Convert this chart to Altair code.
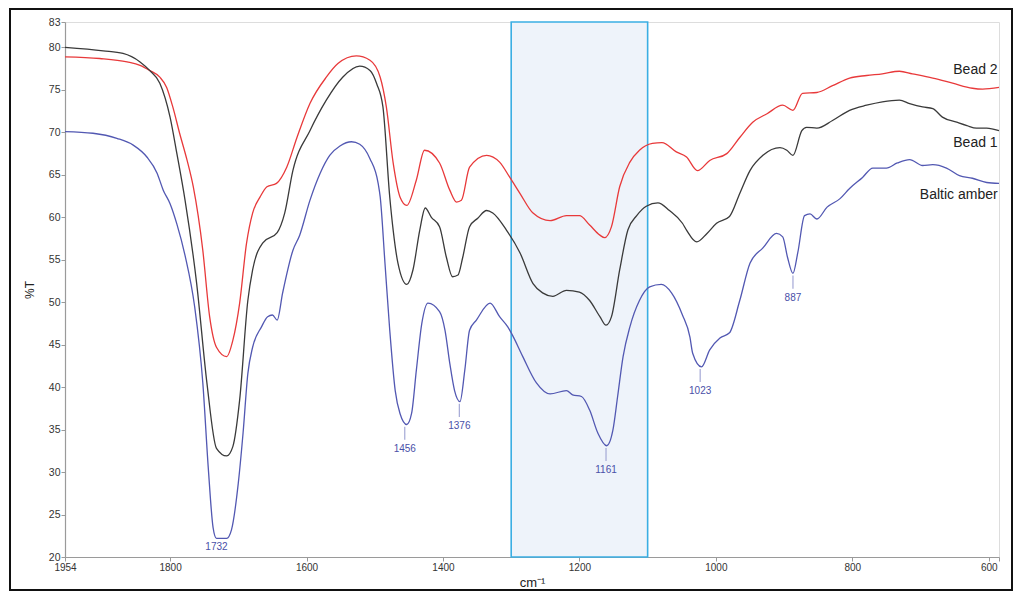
import altair as alt
import pandas as pd

# ---- data ----
bead1_wn = [1954, 1898, 1869, 1844, 1830, 1815, 1800, 1790, 1778, 1761, 1746, 1732, 1717, 1708, 1698,
            1686, 1679, 1664, 1643, 1632, 1620, 1595, 1571, 1547, 1522, 1507, 1497, 1488, 1478, 1473,
            1466, 1453, 1444, 1434, 1426, 1417, 1405, 1395, 1386, 1378, 1371, 1361, 1349, 1336, 1327,
            1307, 1287, 1268, 1254, 1239, 1219, 1200, 1185, 1170, 1161, 1153, 1141, 1129, 1116, 1102,
            1085, 1068, 1049, 1043, 1028, 1013, 999, 980, 965, 950, 931, 906, 896, 887, 874, 867, 852,
            829, 804, 779, 756, 731, 716, 697, 682, 668, 647, 632, 618, 603, 585]
bead1_t = [80.0, 79.6, 79.3, 78.3, 77.3, 75.8, 71.8, 67.5, 62.0, 52.2, 40.5, 32.8, 31.9, 33.0, 38.5,
           50.2, 53.8, 57.0, 58.2, 60.5, 65.5, 70.2, 73.8, 76.5, 77.8, 77.3, 75.7, 73.0, 62.4, 58.5,
           54.6, 52.1, 53.8, 58.5, 61.1, 60.0, 58.9, 55.3, 53.0, 53.2, 55.3, 58.9, 59.9, 60.8, 60.5,
           58.5, 55.8, 52.2, 51.1, 50.7, 51.4, 51.2, 50.2, 48.3, 47.3, 48.3, 53.8, 58.5, 60.2, 61.3,
           61.7, 60.8, 59.3, 58.5, 57.1, 58.1, 59.3, 60.1, 62.8, 65.5, 67.3, 68.2, 67.9, 67.3, 70.2, 70.6, 70.5,
           71.4, 72.6, 73.2, 73.6, 73.8, 73.4, 73.0, 72.8, 71.8, 71.2, 70.8, 70.5, 70.5, 70.2]

bead2_wn = [1954, 1903, 1863, 1844, 1830, 1815, 1805, 1796, 1786, 1775, 1766, 1752, 1742, 1732, 1717,
            1708, 1698, 1688, 1679, 1668, 1658, 1644, 1629, 1614, 1595, 1571, 1554, 1527, 1507, 1492,
            1483, 1473, 1463, 1453, 1439, 1427, 1405, 1390, 1380, 1373, 1361, 1336, 1317, 1302, 1287,
            1268, 1243, 1219, 1200, 1185, 1170, 1163, 1153, 1141, 1126, 1112, 1093, 1079, 1058, 1043,
            1027, 1009, 984, 965, 946, 925, 902, 887, 873, 852, 829, 804, 779, 756, 731, 712, 682, 653,
            624, 609, 585]
bead2_t = [78.9, 78.7, 78.3, 77.9, 77.3, 76.5, 75.3, 73.0, 69.9, 66.7, 63.6, 56.1, 48.3, 44.7, 43.6,
           45.5, 49.9, 56.9, 60.5, 62.4, 63.6, 64.0, 65.9, 69.4, 73.4, 76.5, 78.1, 79.0, 78.5, 76.5,
           73.0, 66.4, 62.4, 61.4, 64.4, 67.9, 66.4, 63.2, 61.8, 62.0, 65.9, 67.3, 66.5, 64.7, 62.8,
           60.5, 59.6, 60.2, 60.2, 59.1, 57.9, 57.6, 58.9, 63.6, 66.5, 67.9, 68.7, 68.8, 67.7, 67.1,
           65.5, 66.7, 67.5, 69.4, 71.2, 72.2, 73.2, 72.6, 74.6, 74.7, 75.5, 76.4, 76.7, 76.9, 77.2, 76.9, 76.4, 75.8,
           75.2, 75.1, 75.3]

amber_wn = [1954, 1913, 1878, 1854, 1834, 1819, 1810, 1800, 1790, 1778, 1764, 1752, 1744, 1737, 1732,
            1717, 1710, 1700, 1693, 1686, 1679, 1666, 1657, 1650, 1643, 1635, 1620, 1610, 1595, 1580,
            1566, 1551, 1534, 1522, 1507, 1495, 1492, 1485, 1478, 1470, 1463, 1453, 1446, 1439, 1431,
            1422, 1405, 1397, 1390, 1383, 1375, 1368, 1361, 1351, 1331, 1317, 1305, 1298, 1283, 1263,
            1243, 1219, 1210, 1197, 1185, 1173, 1160, 1151, 1144, 1136, 1126, 1112, 1097, 1080, 1065,
            1049, 1038, 1034, 1021, 1009, 994, 980, 965, 950, 931, 911, 902, 895, 887, 880, 870, 862,
            852, 837, 818, 804, 785, 770, 750, 734, 716, 697, 682, 662, 643, 624, 603, 585]
amber_t = [70.1, 69.9, 69.3, 68.5, 67.1, 65.2, 63.2, 61.6, 59.2, 55.5, 49.5, 40.5, 30.5, 23.5, 22.2,
           22.2, 23.2, 28.7, 34.6, 41.6, 44.7, 47.1, 48.3, 48.5, 47.9, 51.1, 56.1, 57.9, 62.0, 65.2,
           67.3, 68.4, 68.9, 68.6, 66.9, 64.0, 62.4, 54.6, 46.7, 39.6, 36.9, 35.6, 36.9, 42.0, 47.5,
           49.9, 48.9, 46.7, 42.8, 39.6, 38.3, 42.0, 46.7, 47.9, 49.9, 48.3, 47.1, 46.1, 43.6, 40.5,
           39.2, 39.6, 39.1, 38.9, 37.3, 34.6, 33.1, 34.9, 38.9, 43.6, 47.1, 50.2, 51.8, 52.1, 51.1,
           48.5, 45.9, 44.0, 42.4, 44.4, 45.8, 46.4, 50.2, 54.6, 56.4, 58.1, 57.7, 55.3, 53.4, 55.8, 60.2, 60.4,
           59.8, 61.2, 62.2, 63.4, 64.7, 65.8, 65.8, 66.4, 66.8, 66.1, 66.2, 65.8, 64.9, 64.6, 64.1, 64.0]

series_names = ["Bead 2", "Bead 1", "Baltic amber"]
series_colors = ["#E8393A", "#3A3A3A", "#5258B2"]
series_label_t = [77.3, 68.8, 62.6]

peak_wn = [1732, 1456, 1376, 1161, 1023, 887]
peak_t = [22.2, 35.6, 38.3, 33.1, 42.4, 53.4]
peak_has_leader = [False, True, True, True, True, True]

band_from, band_to = 1300, 1100

x_ticks = [1954, 1800, 1600, 1400, 1200, 1000, 800, 600, 585]
y_ticks = [20, 25, 30, 35, 40, 45, 50, 55, 60, 65, 70, 75, 80, 83]

# ---- build tables ----
spec = pd.concat([
    pd.DataFrame({"wn": bead2_wn, "t": bead2_t, "s": "Bead 2", "o": range(len(bead2_wn))}),
    pd.DataFrame({"wn": bead1_wn, "t": bead1_t, "s": "Bead 1", "o": range(len(bead1_wn))}),
    pd.DataFrame({"wn": amber_wn, "t": amber_t, "s": "Baltic amber", "o": range(len(amber_wn))}),
])
labels = pd.DataFrame({"s": series_names, "t": series_label_t, "wn": [587] * 3})
peaks = pd.DataFrame({"wn": peak_wn, "t": peak_t, "lead": peak_has_leader})
peaks["t_top"] = peaks["t"] - 0.25
peaks["t_end"] = peaks["t"] - 1.8
peaks["t_lab"] = peaks.apply(lambda r: r["t_end"] if r["lead"] else r["t"], axis=1)
peaks["txt"] = peaks["wn"].astype(str)
band = pd.DataFrame({"a": [band_from], "b": [band_to]})

W, H = 934, 535
FONT = "Liberation Sans"

xscale = alt.Scale(domain=[1954, 585], nice=False, zero=False)
yscale = alt.Scale(domain=[20, 83], nice=False, zero=False)

x_axis = alt.Axis(values=x_ticks, format="d", grid=False, labelFlush=False, title="cm⁻¹",
                  labelExpr="datum.value == 585 ? '' : datum.label",
                  labelFontSize=10, labelColor="#333", labelPadding=1, tickSize=4,
                  tickColor="#9a9a9a", domainColor="#9a9a9a", domainWidth=1.2,
                  titleFontSize=13, titleFontWeight="normal", titleColor="#222", titlePadding=4,
                  labelFont=FONT, titleFont=FONT)
y_axis = alt.Axis(values=y_ticks, grid=False, labelFlush=False, title="%T",
                  labelFontSize=10.5, labelColor="#333", labelPadding=1, tickSize=4,
                  tickColor="#9a9a9a", domainColor="#9a9a9a", domainWidth=1.2,
                  titleFontSize=12, titleFontWeight="normal", titleColor="#222", titlePadding=12,
                  labelFont=FONT, titleFont=FONT)

def X(field):
    return alt.X(field, type="quantitative", scale=xscale, axis=x_axis)

def Y(field):
    return alt.Y(field, type="quantitative", scale=yscale, axis=y_axis)

band_layer = alt.Chart(band).mark_rect(fill="#EEF3FA", stroke="#3AAEE3", strokeWidth=1.6).encode(
    x=X("a"), x2="b", y=alt.value(0), y2=alt.value(H))

lines = alt.Chart(spec).mark_line(strokeWidth=1.3, interpolate="monotone").encode(
    x=X("wn"), y=Y("t"),
    color=alt.Color("s:N", scale=alt.Scale(domain=series_names, range=series_colors), legend=None),
    order="o:Q", detail="s:N")

series_text = alt.Chart(labels).mark_text(align="right", baseline="middle", fontSize=14,
                                          font=FONT, color="#222").encode(
    x=X("wn"), y=Y("t"), text="s:N")

leaders = alt.Chart(peaks[peaks["lead"]]).mark_rule(color="#A4A8D6", strokeWidth=1.2).encode(
    x=X("wn"), y=Y("t_top"), y2="t_end")

peak_text = alt.Chart(peaks).mark_text(baseline="top", dy=4, fontSize=10, font=FONT,
                                       color="#4A50A8").encode(
    x=X("wn"), y=Y("t_lab"), text="txt:N")

frame = alt.Chart(band).mark_rect(filled=False, stroke="#111", strokeWidth=2).encode(
    x=alt.value(-55), x2=alt.value(W + 13), y=alt.value(-13), y2=alt.value(H + 33))

chart = alt.layer(frame, band_layer, lines, series_text, leaders, peak_text).properties(
    width=W, height=H,
    padding={"left": 57, "top": 14, "right": 17, "bottom": 35},
    autosize=alt.AutoSizeParams(type="none"),
).configure_view(stroke=None).configure(background="white")

chart.save("out.html", embed_options={"renderer": "svg", "actions": False})
